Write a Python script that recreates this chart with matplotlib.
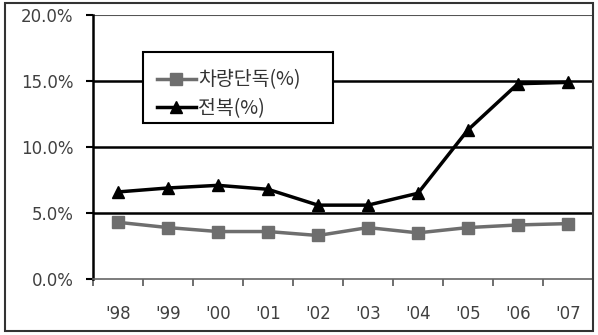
import matplotlib.pyplot as plt
from matplotlib.patches import Rectangle

plt.rcParams['font.family'] = ['DejaVu Sans', 'Noto Sans CJK KR']

years = ["'98", "'99", "'00", "'01", "'02", "'03", "'04", "'05", "'06", "'07"]
single_vehicle = [4.3, 3.9, 3.6, 3.6, 3.3, 3.9, 3.5, 3.9, 4.1, 4.2]
rollover = [6.6, 6.9, 7.1, 6.8, 5.6, 5.6, 6.5, 11.3, 14.8, 14.9]

fig = plt.figure(figsize=(5.98, 3.35), dpi=100)
ax = fig.add_axes([0.1555, 0.167, 0.836, 0.788])

x = list(range(len(years)))
ax.plot(x, single_vehicle, color='#6e6e6e', marker='s', markersize=8, lw=2.5,
        label='차량단독(%)')
ax.plot(x, rollover, color='black', marker='^', markersize=8, lw=2.5,
        label='전복(%)')

ax.set_xlim(-0.5, len(years) - 0.5)
ax.set_ylim(0, 20)
ax.set_yticks([0, 5, 10, 15, 20])
ax.set_yticklabels(['0.0%', '5.0%', '10.0%', '15.0%', '20.0%'])
ax.set_xticks(x)
ax.set_xticklabels(years)
ax.set_xticks([i - 0.5 for i in range(len(years) + 1)], minor=True)
ax.tick_params(axis='x', which='major', length=0, pad=19)
ax.tick_params(axis='x', which='minor', length=5, width=1.2, color='#555555')
ax.tick_params(axis='y', length=5, width=1.5, pad=9)
ax.tick_params(labelsize=12, labelcolor='#404040')

for v in [5, 10, 15]:
    ax.axhline(v, color='black', lw=1.8, zorder=0)
ax.axhline(20, color='#555555', lw=1.5, zorder=0)

ax.spines['left'].set_linewidth(1.8)
ax.spines['bottom'].set_color('#666666')
ax.spines['bottom'].set_linewidth(1.2)
ax.spines['top'].set_visible(False)
ax.spines['right'].set_color('#555555')
ax.spines['right'].set_linewidth(1.2)

# legend box drawn separately: the original has more room above the rows
ax.add_patch(Rectangle((0.1, 0.591), 0.38, 0.269, transform=ax.transAxes,
                       facecolor='white', edgecolor='black', lw=1.5, zorder=4))
leg = ax.legend(loc='center left', bbox_to_anchor=(0.128, 0.70), frameon=False,
                prop={'family': ['Noto Sans CJK KR', 'DejaVu Sans'], 'size': 14},
                handlelength=2.0, handletextpad=0.1, borderpad=0,
                labelspacing=0.4, borderaxespad=0)
leg.set_zorder(5)
for t in leg.get_texts():
    t.set_color('#333333')

fig.patches.append(Rectangle((0.008, 0.012), 0.984, 0.98, transform=fig.transFigure,
                             fill=False, edgecolor='#333333', lw=1.5))

fig.savefig('out.png', dpi=100)
